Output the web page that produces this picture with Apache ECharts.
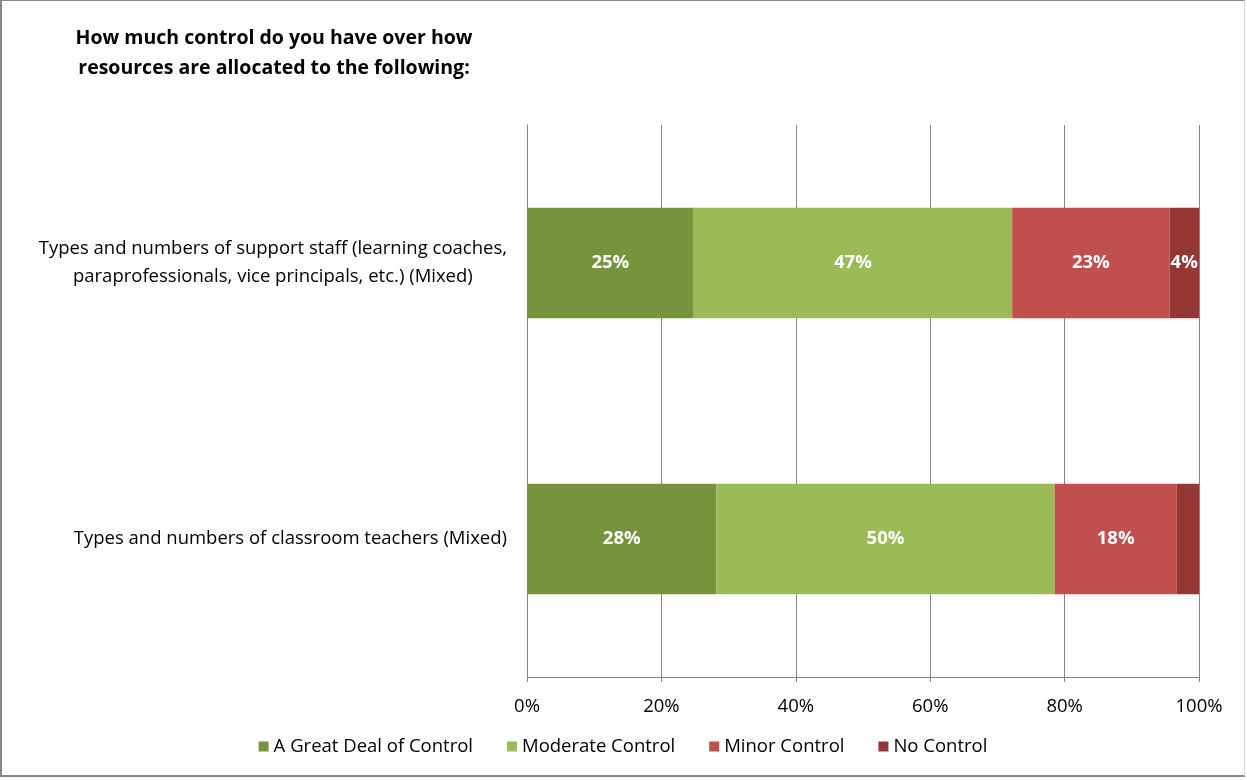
<!DOCTYPE html>
<html>
<head>
<meta charset="utf-8">
<script src="https://cdn.jsdelivr.net/npm/echarts@6/dist/echarts.min.js"></script>
<style>
html,body{margin:0;padding:0;background:#fff;}
#c{position:absolute;left:0;top:0;width:1245px;height:777px;border-left:2px solid #878787;border-top:1px solid #878787;border-bottom:2px solid #878787;border-right:1px solid #d9d9d9;box-sizing:border-box;background:#fff;}
</style>
</head>
<body>
<div id="c"></div>
<script>
const titleText = 'How much control do you have over how\nresources are allocated to the following:';
const categories = [
  'Types and numbers of support staff (learning coaches,\nparaprofessionals, vice principals, etc.) (Mixed)',
  'Types and numbers of classroom teachers (Mixed)'
];
const seriesNames = ['A Great Deal of Control', 'Moderate Control', 'Minor Control', 'No Control'];
const greatDeal = [24.8, 28.2];
const moderate = [47.4, 50.3];
const minor = [23.4, 18.2];
const noControl = [4.4, 3.3];
const xTicks = [0, 20, 40, 60, 80, 100];
const colors = ['#77933C', '#9BBB59', '#C0504D', '#953735'];

const font = '"Open Sans", "Noto Sans", sans-serif';
const fs = 18.5;
const seriesValues = [greatDeal, moderate, minor, noControl];

const chart = echarts.init(document.getElementById('c'), null, {renderer: 'canvas'});
chart.setOption({
  animation: false,
  title: {
    text: titleText,
    left: 267, top: 17, textAlign: 'center',
    textStyle: {fontFamily: font, fontSize: 19.5, fontWeight: 'bold', color: '#000', lineHeight: 30}
  },
  color: colors,
  legend: {
    bottom: 14, left: 'center',
    itemWidth: 10, itemHeight: 10, itemGap: 34,
    icon: 'rect',
    textStyle: {fontFamily: font, fontSize: fs, color: '#000', padding: [0, 0, 0, 0]},
    data: seriesNames
  },
  grid: {left: 525, right: 45, top: 124, bottom: 98, containLabel: false},
  xAxis: {
    type: 'value', min: xTicks[0], max: xTicks[xTicks.length - 1], interval: 20,
    axisLine: {show: true, lineStyle: {color: '#868686', width: 1}},
    axisTick: {show: true, length: 5, lineStyle: {color: '#868686'}},
    splitLine: {show: true, lineStyle: {color: '#868686', width: 1}},
    axisLabel: {formatter: '{value}%', fontFamily: font, fontSize: fs, color: '#000', margin: 20}
  },
  yAxis: {
    type: 'category', inverse: true, data: categories,
    axisLine: {show: true, lineStyle: {color: '#868686', width: 1}},
    axisTick: {show: false},
    axisLabel: {
      fontFamily: font, fontSize: fs, color: '#000', margin: 20, lineHeight: 28,
      align: 'right',
      formatter: function (v) { return '{c|' + v + '}'; },
      rich: {c: {fontFamily: font, fontSize: fs, color: '#000', lineHeight: 28, align: 'center'}}
    }
  },
  series: seriesNames.map(function (name, i) {
    return {
      name: name, type: 'bar', stack: 'total', barWidth: '40%',
      data: seriesValues[i],
      itemStyle: {color: colors[i]},
      label: {
        show: true, position: 'inside', color: '#fff', fontFamily: font, fontSize: fs, fontWeight: 'bold',
        formatter: function (p) { return p.value >= 3.5 ? Math.round(p.value) + '%' : ''; }
      }
    };
  })
});
</script>
</body>
</html>
